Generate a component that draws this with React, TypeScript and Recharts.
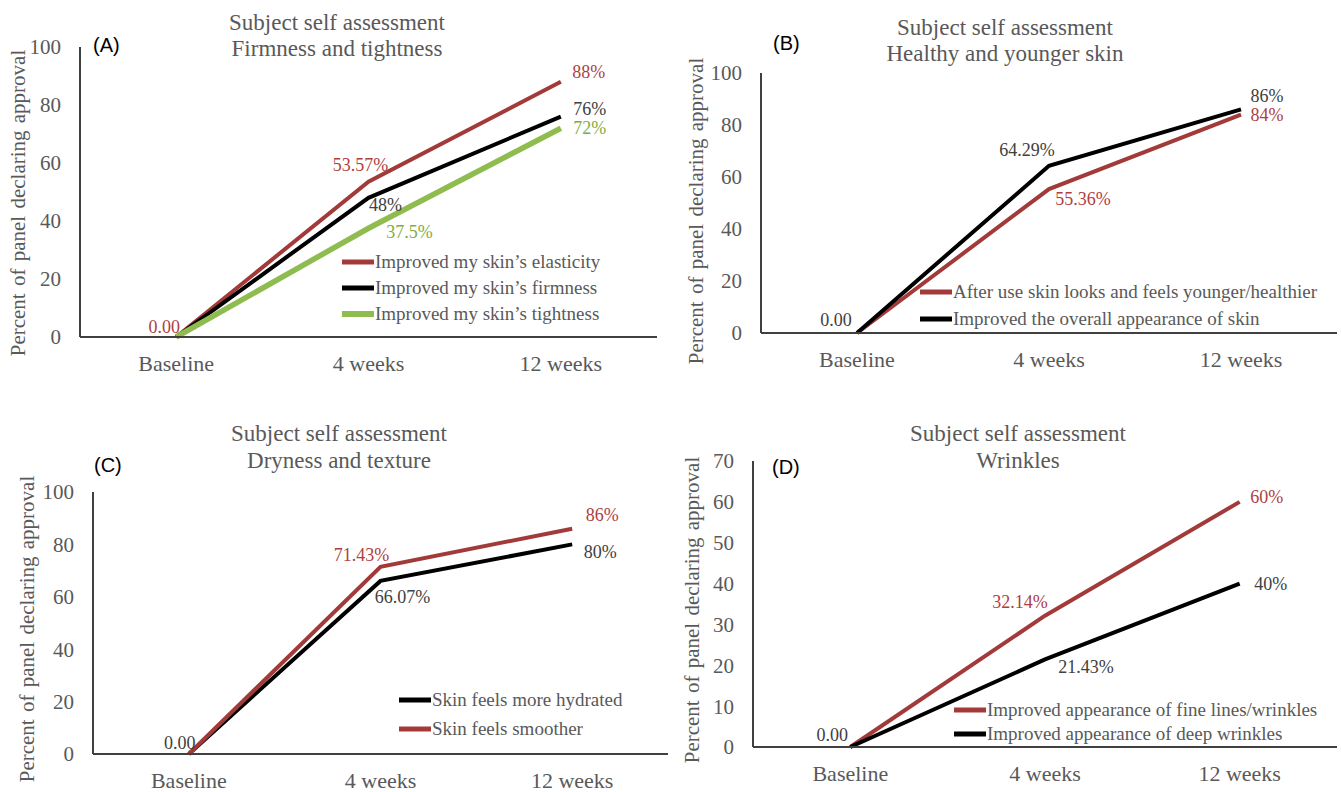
import { LineChart, Line, XAxis, YAxis, Legend } from 'recharts';

const SERIF = '"Liberation Serif", "Times New Roman", serif';
const SANS = '"Liberation Sans", Arial, sans-serif';
const RED = '#A23A3A';
const RED_TEXT = '#AE3F3F';
const BLACK = '#000000';
const BLACK_TEXT = '#404040';
const GREEN = '#8EBC4F';
const GREEN_TEXT = '#7FAE3F';
const GREY = '#595959';
const AXIS = '#404040';

const weeks = ['Baseline', '4 weeks', '12 weeks'];

// (A) firmness and tightness
const elasticity = [0, 53.57, 88];
const firmness = [0, 48, 76];
const tightness = [0, 37.5, 72];

// (B) healthy and younger skin
const youngerHealthier = [0, 55.36, 84];
const overallAppearance = [0, 64.29, 86];

// (C) dryness and texture
const moreHydrated = [0, 66.07, 80];
const smoother = [0, 71.43, 86];

// (D) wrinkles
const fineLines = [0, 32.14, 60];
const deepWrinkles = [0, 21.43, 40];

const pctTicks = [0, 20, 40, 60, 80, 100];
const wrinkleTicks = [0, 10, 20, 30, 40, 50, 60, 70];

type Offset = [number, number] | null;

type Series = {
  key: string;
  name: string;
  values: number[];
  color: string;
  textColor: string;
  width: number;
  labels: Offset[];
};

type Panel = {
  tag: string;
  subtitle: string;
  box: { left: number; top: number; width: number; height: number };
  margin: { top: number; right: number; bottom: number; left: number };
  yWidth: number;
  yMax: number;
  ticks: number[];
  title: { x: number; y: [number, number] };
  tagPos: { x: number; y: number };
  yLabel: { x: number; y: number };
  legend: { left: number; top: number; rowH: number };
  series: Series[];
};

const panels: Panel[] = [
  {
    tag: '(A)',
    subtitle: 'Firmness and tightness',
    box: { left: 0, top: 0, width: 670, height: 390 },
    margin: { top: 47, right: 13, bottom: 23, left: 0 },
    yWidth: 80,
    yMax: 100,
    ticks: pctTicks,
    title: { x: 337, y: [22, 48] },
    tagPos: { x: 93, y: 45 },
    yLabel: { x: 18, y: 203 },
    legend: { left: 341, top: 249, rowH: 26 },
    series: [
      { key: 'elasticity', name: 'Improved my skin’s elasticity', values: elasticity, color: RED, textColor: RED_TEXT, width: 4, labels: [[-12, -10], [-8, -17], [28, -10]] },
      { key: 'firmness', name: 'Improved my skin’s firmness', values: firmness, color: BLACK, textColor: BLACK_TEXT, width: 4, labels: [null, [17, 7], [29, -8]] },
      { key: 'tightness', name: 'Improved my skin’s tightness', values: tightness, color: GREEN, textColor: GREEN_TEXT, width: 5.5, labels: [null, [41, 4], [29, 0]] },
    ],
  },
  {
    tag: '(B)',
    subtitle: 'Healthy and younger skin',
    box: { left: 670, top: 0, width: 671, height: 390 },
    margin: { top: 73, right: 4, bottom: 27, left: 0 },
    yWidth: 91,
    yMax: 100,
    ticks: pctTicks,
    title: { x: 335, y: [27, 53] },
    tagPos: { x: 103, y: 43 },
    yLabel: { x: 26, y: 211 },
    legend: { left: 249, top: 278, rowH: 27 },
    series: [
      { key: 'younger', name: 'After use skin looks and feels younger/healthier', values: youngerHealthier, color: RED, textColor: RED_TEXT, width: 4, labels: [null, [34, 10], [26, 0]] },
      { key: 'overall', name: 'Improved the overall appearance of skin', values: overallAppearance, color: BLACK, textColor: BLACK_TEXT, width: 4, labels: [[-21, -13], [-22, -16], [26, -13]] },
    ],
  },
  {
    tag: '(C)',
    subtitle: 'Dryness and texture',
    box: { left: 0, top: 400, width: 670, height: 392 },
    margin: { top: 92, right: 2, bottom: 8, left: 0 },
    yWidth: 93,
    yMax: 100,
    ticks: pctTicks,
    title: { x: 339, y: [33, 60] },
    tagPos: { x: 94, y: 65 },
    yLabel: { x: 27, y: 229 },
    legend: { left: 398, top: 285, rowH: 29 },
    series: [
      { key: 'hydrated', name: 'Skin feels more hydrated', values: moreHydrated, color: BLACK, textColor: BLACK_TEXT, width: 4, labels: [[-9, -11], [22, 16], [28, 8]] },
      { key: 'smoother', name: 'Skin feels smoother', values: smoother, color: RED, textColor: RED_TEXT, width: 4, labels: [null, [-19, -12], [30, -14]] },
    ],
  },
  {
    tag: '(D)',
    subtitle: 'Wrinkles',
    box: { left: 670, top: 400, width: 671, height: 392 },
    margin: { top: 61, right: 4, bottom: 15, left: 0 },
    yWidth: 83,
    yMax: 70,
    ticks: wrinkleTicks,
    title: { x: 348, y: [33, 60] },
    tagPos: { x: 102, y: 67 },
    yLabel: { x: 22, y: 210 },
    legend: { left: 283, top: 298, rowH: 24 },
    series: [
      { key: 'fine', name: 'Improved appearance of fine lines/wrinkles', values: fineLines, color: RED, textColor: RED_TEXT, width: 4, labels: [null, [-25, -14], [27, -5]] },
      { key: 'deep', name: 'Improved appearance of deep wrinkles', values: deepWrinkles, color: BLACK, textColor: BLACK_TEXT, width: 4, labels: [[-18, -12], [41, 8], [31, 0]] },
    ],
  },
];

const makeLabel = (s: Series) => (p: any) => {
  const idx = p.index ?? 0;
  const off = s.labels[idx];
  const x = p.x ?? p.viewBox?.x;
  const y = p.y ?? p.viewBox?.y;
  if (!off || p.value == null || x == null || y == null) return <g key={`${s.key}-l-${idx}`} />;
  const text = idx === 0 ? Number(p.value).toFixed(2) : `${p.value}%`;
  return (
    <text
      key={`${s.key}-l-${idx}`}
      x={x + off[0]}
      y={y + off[1]}
      textAnchor="middle"
      dominantBaseline="central"
      fill={s.textColor}
      fontSize={18}
      fontFamily={SERIF}
    >
      {text}
    </text>
  );
};

function ChartPanel({ panel }: { panel: Panel }) {
  const data = weeks.map((name, i) => {
    const row: Record<string, string | number> = { name };
    panel.series.forEach((s) => {
      row[s.key] = s.values[i];
    });
    return row;
  });

  const order = panel.series.map((s) => s.key);

  const renderLegend = (props: any) => {
    const items = [...((props.payload ?? []) as any[])].sort(
      (a, b) => order.indexOf(a.dataKey) - order.indexOf(b.dataKey),
    );
    return (
      <div style={{ fontFamily: SERIF, fontSize: 19, color: GREY }}>
        {items.map((item) => {
          const s = panel.series.find((x) => x.key === item.dataKey);
          return (
            <div key={`lg-${item.dataKey}`} style={{ display: 'flex', alignItems: 'center', height: panel.legend.rowH, whiteSpace: 'nowrap' }}>
              <svg width={34} height={10} style={{ display: 'block' }}>
                <line x1={1} y1={5} x2={33} y2={5} stroke={item.color} strokeWidth={s && s.width > 4 ? 6 : 5} />
              </svg>
              <span>{item.value}</span>
            </div>
          );
        })}
      </div>
    );
  };

  const { box } = panel;
  return (
    <div style={{ position: 'absolute', left: box.left, top: box.top, width: box.width, height: box.height }}>
      <LineChart width={box.width} height={box.height} data={data} margin={panel.margin}>
        <XAxis
          dataKey="name"
          scale="band"
          axisLine={{ stroke: AXIS, strokeWidth: 2 }}
          tickLine={false}
          tickSize={0}
          tickMargin={18}
          height={30}
          tick={{ fill: GREY, fontSize: 22, fontFamily: SERIF }}
        />
        <YAxis
          width={panel.yWidth}
          domain={[0, panel.yMax]}
          ticks={panel.ticks}
          interval={0}
          axisLine={{ stroke: AXIS, strokeWidth: 2 }}
          tickLine={false}
          tickSize={0}
          tickMargin={19}
          tick={{ fill: GREY, fontSize: 21, fontFamily: SERIF }}
          label={{
            content: () => (
              <text
                transform={`translate(${panel.yLabel.x},${panel.yLabel.y}) rotate(-90)`}
                textAnchor="middle"
                dominantBaseline="central"
                fill={GREY}
                fontSize={21}
                fontFamily={SERIF}
                wordSpacing={2}
              >
                Percent of panel declaring approval
              </text>
            ),
          }}
        />
        <Legend
          layout="vertical"
          align="center"
          verticalAlign="middle"
          content={renderLegend}
          wrapperStyle={{ position: 'absolute', left: panel.legend.left, top: panel.legend.top, width: 'auto', height: 'auto' }}
        />
        {panel.series.map((s) => (
          <Line
            key={s.key}
            type="linear"
            dataKey={s.key}
            name={s.name}
            stroke={s.color}
            strokeWidth={s.width}
            dot={false}
            activeDot={false}
            isAnimationActive={false}
            label={makeLabel(s)}
          />
        ))}
      </LineChart>
      <svg
        width={box.width}
        height={box.height}
        style={{ position: 'absolute', left: 0, top: 0, pointerEvents: 'none' }}
      >
        <text x={panel.title.x} y={panel.title.y[0]} textAnchor="middle" dominantBaseline="central" fill={GREY} fontSize={23} fontFamily={SERIF}>
          Subject self assessment
        </text>
        <text x={panel.title.x} y={panel.title.y[1]} textAnchor="middle" dominantBaseline="central" fill={GREY} fontSize={23} fontFamily={SERIF}>
          {panel.subtitle}
        </text>
        <text x={panel.tagPos.x} y={panel.tagPos.y} dominantBaseline="central" fill="#000" fontSize={20} fontFamily={SANS}>
          {panel.tag}
        </text>
      </svg>
    </div>
  );
}

export default function App() {
  return (
    <div style={{ position: 'absolute', left: 0, top: 0, width: 1341, height: 792, background: '#fff', overflow: 'hidden' }}>
      {panels.map((p) => (
        <ChartPanel key={p.tag} panel={p} />
      ))}
    </div>
  );
}
